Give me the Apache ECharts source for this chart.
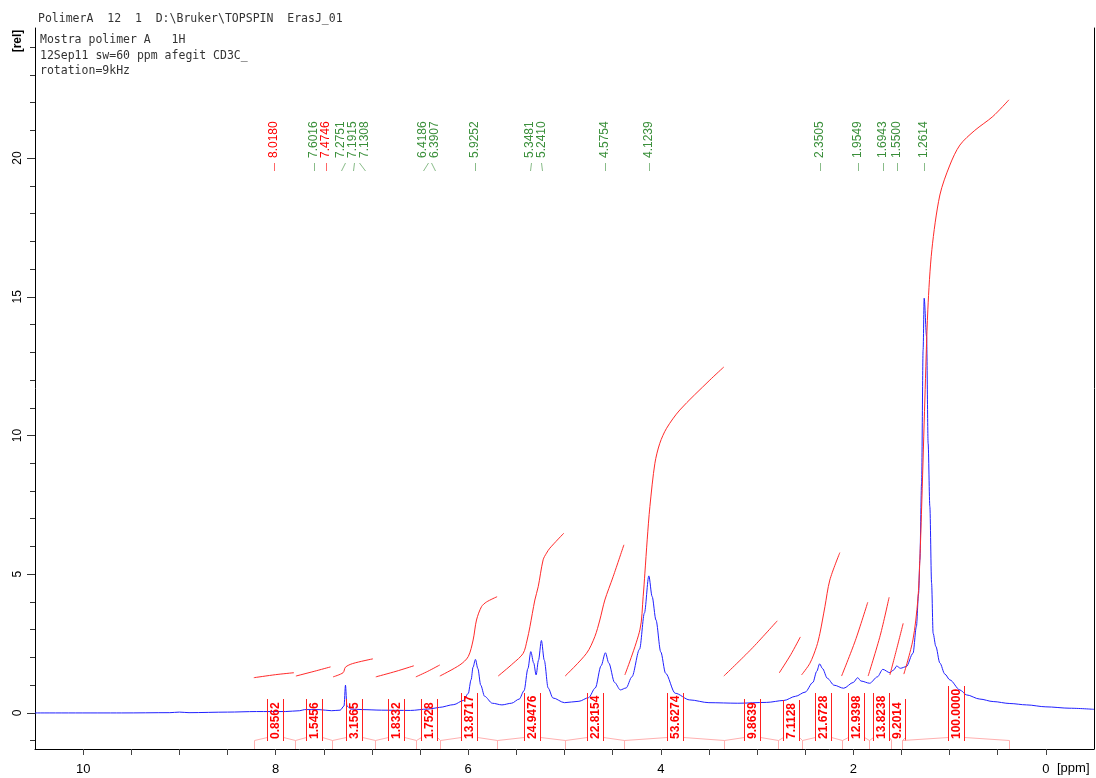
<!DOCTYPE html>
<html>
<head>
<meta charset="utf-8">
<title>PolimerA 1H</title>
<script src="https://cdn.jsdelivr.net/npm/echarts@6.0.0/dist/echarts.min.js"></script>
<style>
html, body { margin: 0; padding: 0; background: #fff; }
#main { width: 1096px; height: 778px; }
</style>
</head>
<body>
<div id="main"></div>
<script>
// spectrum (ppm, rel)
var specPpm = [10.5, 9.6, 9.1, 9.0, 8.9, 8.5, 8.2, 7.9, 7.75, 7.7, 7.55, 7.42, 7.33, 7.29, 7.275, 7.26, 7.22, 7.1, 6.9, 6.6,
  6.42, 6.39, 6.3, 6.15, 6.05, 6.0, 5.97, 5.95, 5.925, 5.9, 5.87, 5.83, 5.75, 5.65, 5.55, 5.47, 5.42, 5.38, 5.35, 5.32,
  5.295, 5.27, 5.24, 5.21, 5.17, 5.12, 5.0, 4.85, 4.75, 4.68, 4.62, 4.575, 4.54, 4.48, 4.42, 4.36, 4.3, 4.22, 4.17, 4.124,
  4.09, 4.05, 4.0, 3.95, 3.85, 3.7, 3.5, 3.2, 2.9, 2.72, 2.6, 2.5, 2.42, 2.38, 2.35, 2.32, 2.27, 2.2, 2.1, 2.0,
  1.955, 1.92, 1.83, 1.75, 1.694, 1.62, 1.58, 1.55, 1.51, 1.45, 1.38, 1.345, 1.322, 1.309, 1.291, 1.275, 1.264, 1.239, 1.223, 1.205,
  1.187, 1.171, 1.143, 1.101, 1.049, 0.997, 0.893, 0.824, 0.686, 0.547, 0.374, 0.2, 0.0, -0.25, -0.5];
var specVal = [0.0, 0.0, 0.01, 0.03, 0.01, 0.03, 0.05, 0.05, 0.08, 0.12, 0.12, 0.08, 0.1, 0.25, 1.0, 0.25, 0.14, 0.12, 0.1, 0.09,
  0.14, 0.15, 0.2, 0.3, 0.45, 0.7, 1.2, 1.65, 1.93, 1.6, 1.0, 0.6, 0.35, 0.29, 0.35, 0.5, 0.8, 1.6, 2.21, 1.8,
  1.37, 1.9, 2.61, 1.9, 0.9, 0.54, 0.37, 0.42, 0.55, 0.9, 1.7, 2.17, 1.8, 1.1, 0.83, 0.9, 1.3, 2.3, 3.6, 4.94,
  4.2, 3.35, 2.2, 1.43, 0.71, 0.47, 0.37, 0.35, 0.38, 0.45, 0.6, 0.75, 1.1, 1.5, 1.77, 1.6, 1.25, 1.0, 0.89, 1.1,
  1.27, 1.15, 1.07, 1.3, 1.57, 1.45, 1.55, 1.69, 1.61, 1.67, 2.15, 3.11, 4.3, 5.5, 8.28, 13.09, 14.95, 13.57, 9.72, 7.44,
  4.68, 2.87, 2.4, 1.8, 1.4, 1.19, 0.83, 0.65, 0.5, 0.41, 0.34, 0.29, 0.22, 0.17, 0.13];

// peak list
var peakPpm = [8.0180, 7.6016, 7.4746, 7.2751, 7.1915, 7.1308, 6.4186, 6.3907, 5.9252, 5.3481, 5.2410, 4.5754, 4.1239,
  2.3505, 1.9549, 1.6943, 1.5500, 1.2614];
var peakRed = [true, false, true, false, false, false, false, false, false, false, false, false, false,
  false, false, false, false, false];

// integrals
var intStart = [8.227, 7.804, 7.414, 6.970, 6.547, 6.295, 5.703, 4.993, 4.380, 3.345, 2.781, 2.538, 2.122, 1.839, 1.613, 1.493];
var intEnd   = [7.804, 7.414, 6.970, 6.547, 6.295, 5.703, 4.993, 4.380, 3.345, 2.781, 2.538, 2.122, 1.839, 1.613, 1.493, 0.381];
var intLabel = ['0.8562', '1.5456', '3.1565', '1.8332', '1.7528', '13.8717', '24.9476', '22.8154', '53.6274', '9.8639',
  '7.1128', '21.6728', '12.9398', '13.8238', '9.2014', '100.0000'];
var intCurves = [
  [[8.227, 1.27], [8.0, 1.38], [7.81, 1.45]],
  [[7.79, 1.33], [7.6, 1.5], [7.43, 1.66]],
  [[7.404, 1.3], [7.3, 1.45], [7.275, 1.65], [7.2, 1.78], [6.99, 1.95]],
  [[6.96, 1.3], [6.75, 1.5], [6.565, 1.7]],
  [[6.544, 1.3], [6.42, 1.5], [6.295, 1.73]],
  [[6.295, 1.33], [6.087, 1.73], [6.0, 2.03], [5.949, 2.63], [5.914, 3.35], [5.862, 3.83], [5.81, 4.0], [5.70, 4.19]],
  [[5.689, 1.33], [5.533, 1.79], [5.429, 2.15], [5.388, 2.63], [5.359, 3.11], [5.308, 4.07], [5.273, 4.55], [5.222, 5.52],
   [5.187, 5.76], [5.152, 5.94], [5.007, 6.48]],
  [[4.993, 1.33], [4.771, 2.15], [4.685, 2.75], [4.633, 3.35], [4.581, 4.07], [4.495, 4.91], [4.383, 6.06]],
  [[4.373, 1.37], [4.217, 2.99], [4.183, 4.19], [4.165, 5.04], [4.141, 6.24], [4.113, 7.44], [4.061, 9.0], [4.01, 9.72],
   [3.94, 10.26], [3.802, 10.92], [3.49, 12.0], [3.345, 12.47]],
  [[3.345, 1.33], [3.06, 2.3], [2.79, 3.32]],
  [[2.77, 1.44], [2.65, 2.1], [2.55, 2.74]],
  [[2.538, 1.37], [2.451, 1.79], [2.382, 2.39], [2.347, 2.87], [2.295, 3.83], [2.244, 4.79], [2.14, 5.78]],
  [[2.122, 1.33], [1.98, 2.6], [1.85, 3.99]],
  [[1.846, 1.33], [1.72, 2.8], [1.628, 4.17]],
  [[1.62, 1.37], [1.55, 2.3], [1.482, 3.23]],
  [[1.475, 1.4], [1.381, 2.63], [1.33, 4.07], [1.309, 5.5], [1.288, 7.68], [1.257, 11.28], [1.226, 14.53], [1.184, 16.7],
   [1.101, 18.67], [0.997, 19.75], [0.893, 20.47], [0.738, 21.0], [0.551, 21.5], [0.384, 22.1]]
];

// axis ticks
var xTickVals = [0, 0.5, 1, 1.5, 2, 2.5, 3, 3.5, 4, 4.5, 5, 5.5, 6, 6.5, 7, 7.5, 8, 8.5, 9, 9.5, 10];
var xLabelVals = [0, 2, 4, 6, 8, 10];
var yMajor = [0, 5, 10, 15, 20];
var yMinor = [-1, 1, 2, 3, 4, 6, 7, 8, 9, 11, 12, 13, 14, 16, 17, 18, 19, 21, 22, 23, 24];

var chart = echarts.init(document.getElementById('main'));

var GREEN = '#3a8f3a';
var RED = '#ff0000';
var BOX_RED = '#ff2020';
var PEAK_FONT = '12px "Liberation Sans", Arial, sans-serif';
var INT_FONT = 'bold 12px "Liberation Sans", Arial, sans-serif';

var measureCtx = document.createElement('canvas').getContext('2d');
function textWidth(t, font) {
  measureCtx.font = font;
  return measureCtx.measureText(t).width;
}
function px(v) { return Math.round(v) + 0.5; }

// spread crowded peak labels apart (in ppm units)
function spreadLabels(vals, minSep) {
  var pos = vals.slice();
  var guard = 0;
  while (guard < 50) {
    guard++;
    var i = 0;
    while (i < pos.length) {
      var j = i;
      while (j + 1 < pos.length && pos[j] - pos[j + 1] < minSep - 1e-9) j++;
      if (j > i) {
        var sum = 0;
        for (var k = i; k <= j; k++) sum += vals[k];
        var mean = sum / (j - i + 1);
        var first = mean + minSep * (j - i) / 2;
        for (k = i; k <= j; k++) pos[k] = first - minSep * (k - i);
      }
      i = j + 1;
    }
    var ok = true;
    for (var m = 0; m + 1 < pos.length; m++) if (pos[m] - pos[m + 1] < minSep - 1e-6) ok = false;
    if (ok) break;
  }
  return pos;
}
var peakLabelPos = spreadLabels(peakPpm, 0.122);

function renderPeak(params, api) {
  var i = params.dataIndex;
  var cs = params.coordSys;
  var tx = api.coord([api.value(0), 0])[0];
  var lx = api.coord([api.value(1), 0])[0];
  var top = cs.y;
  var col = peakRed[i] ? RED : GREEN;
  var txt = peakPpm[i].toFixed(4);
  return {
    type: 'group',
    children: [
      { type: 'text', x: Math.round(lx), y: top + 130, rotation: Math.PI / 2,
        style: { text: txt, font: PEAK_FONT, fill: col, align: 'left', verticalAlign: 'middle' } },
      { type: 'polyline', shape: { points: [[px(tx), top + 135], [px(lx), top + 143]] },
        style: { stroke: col, lineWidth: 1, opacity: 0.6, fill: 'none' } }
    ]
  };
}

function renderIntegral(params, api) {
  var i = params.dataIndex;
  var cs = params.coordSys;
  var yb = cs.y + cs.height;
  var x1 = px(api.coord([api.value(0), 0])[0]);
  var x2 = px(api.coord([api.value(1), 0])[0]);
  var xc = Math.round((x1 + x2) / 2);
  var txt = intLabel[i];
  var w = textWidth(txt, INT_FONT);
  var bl = xc - 7.5, br = xc + 8.5;
  var textBottom = yb - 10;
  var topY = Math.round(textBottom - w - 3);
  var pink = '#ffb0b0';
  var d = 'M' + bl + ' ' + (yb - 8) + 'L' + bl + ' ' + topY +
    'M' + br + ' ' + topY + 'L' + br + ' ' + (yb - 8);
  return {
    type: 'group',
    children: [
      { type: 'polyline', shape: { points: [[x1, yb], [x1, yb - 8.5], [bl, yb - 11.5]] },
        style: { stroke: pink, lineWidth: 1, fill: 'none' } },
      { type: 'polyline', shape: { points: [[br, yb - 11.5], [x2, yb - 8.5], [x2, yb]] },
        style: { stroke: pink, lineWidth: 1, fill: 'none' } },
      { type: 'text', x: xc + 1, y: textBottom, rotation: Math.PI / 2,
        style: { text: txt, font: INT_FONT, fill: RED, align: 'left', verticalAlign: 'middle' } },
      { type: 'path', shape: { pathData: d },
        style: { stroke: BOX_RED, lineWidth: 1, fill: 'none' } }
    ]
  };
}

var series = [];
series.push({
  name: 'spectrum',
  type: 'line',
  data: specPpm.map(function (p, i) { return [p, specVal[i]]; }),
  showSymbol: false,
  smooth: 0.3,
  smoothMonotone: 'x',
  lineStyle: { color: '#2020ff', width: 1 },
  z: 2
});
intCurves.forEach(function (c) {
  series.push({
    type: 'line',
    data: c,
    showSymbol: false,
    smooth: 0.3,
    lineStyle: { color: '#ff2a2a', width: 1 },
    z: 3
  });
});
series.push({
  type: 'custom',
  renderItem: renderIntegral,
  data: intStart.map(function (s, i) { return [s, intEnd[i], 0]; }),
  encode: { x: [0, 1], y: 2 },
  itemStyle: { color: BOX_RED },
  clip: false,
  z: 4
});
series.push({
  type: 'custom',
  renderItem: renderPeak,
  data: peakPpm.map(function (p, i) { return [p, peakLabelPos[i], 20]; }),
  encode: { x: [0, 1], y: 2 },
  itemStyle: { color: GREEN },
  clip: false,
  z: 4
});

var yMin = -1.30, yMax = 24.69;

var option = {
  animation: false,
  backgroundColor: '#fff',
  grid: { left: 35, right: 2, top: 28, bottom: 29 },
  xAxis: {
    type: 'value',
    min: -0.5,
    max: 10.5,
    inverse: true,
    axisLine: { show: true, onZero: false, lineStyle: { color: '#000', width: 1 } },
    axisTick: { show: true, length: 6, customValues: xTickVals, lineStyle: { color: '#444' } },
    axisLabel: { customValues: xLabelVals, margin: 14, color: '#000', fontSize: 13,
      fontFamily: '"Liberation Sans", Arial, sans-serif' },
    splitLine: { show: false }
  },
  yAxis: [{
    type: 'value',
    min: yMin,
    max: yMax,
    position: 'left',
    axisLine: { show: true, onZero: false, lineStyle: { color: '#000', width: 1 } },
    axisTick: { show: true, length: 8, customValues: yMajor, lineStyle: { color: '#333' } },
    axisLabel: { customValues: yMajor, rotate: 90, margin: 11, color: '#000', fontSize: 12,
      fontFamily: '"Liberation Sans", Arial, sans-serif' },
    splitLine: { show: false }
  }, {
    type: 'value',
    min: yMin,
    max: yMax,
    position: 'left',
    offset: 0,
    axisLine: { show: false, onZero: false },
    axisTick: { show: true, length: 5, customValues: yMinor, lineStyle: { color: '#333' } },
    axisLabel: { show: false },
    splitLine: { show: false }
  }, {
    type: 'value',
    min: yMin,
    max: yMax,
    position: 'right',
    offset: 0,
    axisLine: { show: true, onZero: false, lineStyle: { color: '#000', width: 1 } },
    axisTick: { show: false },
    axisLabel: { show: false },
    splitLine: { show: false }
  }],
  graphic: [
    { type: 'text', left: 38, top: 13,
      style: { text: 'PolimerA  12  1  D:\\Bruker\\TOPSPIN  ErasJ_01', font: '11.5px "DejaVu Sans Mono", monospace', fill: '#333' } },
    { type: 'text', left: 40, top: 34,
      style: { text: 'Mostra polimer A   1H', font: '11.5px "DejaVu Sans Mono", monospace', fill: '#333' } },
    { type: 'text', left: 40, top: 50,
      style: { text: '12Sep11 sw=60 ppm afegit CD3C_', font: '11.5px "DejaVu Sans Mono", monospace', fill: '#333' } },
    { type: 'text', left: 40, top: 65,
      style: { text: 'rotation=9kHz', font: '11.5px "DejaVu Sans Mono", monospace', fill: '#333' } },
    { type: 'text', x: 18, y: 41, rotation: Math.PI / 2,
      style: { text: '[rel]', font: 'bold 12px "Liberation Sans", Arial, sans-serif', fill: '#000', align: 'center', verticalAlign: 'middle' } },
    { type: 'text', left: 1057, top: 762,
      style: { text: '[ppm]', font: '13px "Liberation Sans", Arial, sans-serif', fill: '#000' } }
  ],
  series: series
};

chart.setOption(option);
</script>
</body>
</html>
